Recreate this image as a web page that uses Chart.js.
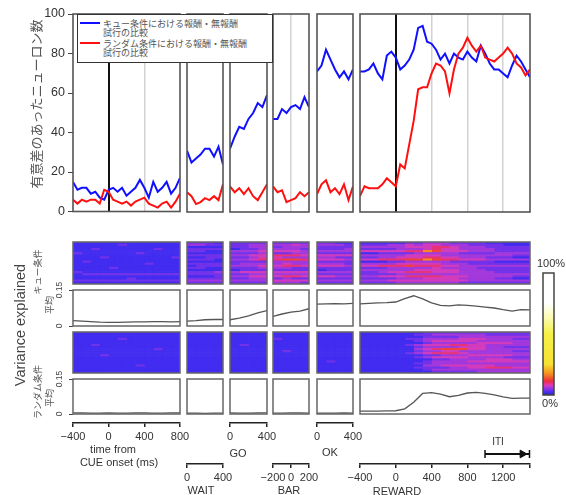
<!DOCTYPE html>
<html lang="ja">
<head>
<meta charset="utf-8">
<title>Variance explained</title>
<script src="https://cdn.jsdelivr.net/npm/chart.js@4.4.1/dist/chart.umd.min.js"></script>
<style>
  html, body { margin: 0; padding: 0; background: #fff; }
  #wrap { position: relative; width: 566px; height: 495px; overflow: hidden;
          font-family: 'Liberation Sans', 'Noto Sans CJK JP', sans-serif; }
  #wrap canvas { position: absolute; }
  .txt { position: absolute; white-space: nowrap; color: #333; line-height: 1;
         transform: translate(-50%, -50%); z-index: 5; }
  .rot { transform: translate(-50%, -50%) rotate(-90deg); }
  #legend { position: absolute; left: 77px; top: 14px; width: 196px; height: 49px;
            box-sizing: border-box; border: 1.5px solid #333; background: #fff; z-index: 6;
            font-family: 'Noto Sans CJK JP', sans-serif; font-size: 9px; line-height: 9px; color: #555; }
  #legend .sw { position: absolute; left: 2px; width: 20px; height: 2px; }
  #legend .lt { position: absolute; left: 25px; white-space: nowrap; }
</style>
</head>
<body>
<div id="wrap">
  <div id="legend">
    <div class="sw" style="top:7px;background:#1010ff"></div>
    <div class="lt" style="top:4px">キュー条件における報酬・無報酬<br>試行の比較</div>
    <div class="sw" style="top:27px;background:#ff1010"></div>
    <div class="lt" style="top:24px">ランダム条件における報酬・無報酬<br>試行の比較</div>
  </div>
</div>
<script>
// ---- top panel: number of neurons (50 ms steps) ----
const topYTicks = [0, 20, 40, 60, 80, 100];

const tCue = [-400, -350, -300, -250, -200, -150, -100, -50, 0, 50, 100, 150, 200, 250, 300, 350, 400, 450, 500, 550, 600, 650, 700, 750, 800];
const blueCue = [15, 11, 12, 12, 9, 10, 7, 6, 11, 12, 10, 12, 8, 10, 12, 16, 12, 7, 15, 10, 12, 15, 9, 12, 17];
const redCue = [6, 4, 6, 5, 6, 6, 4, 11, 10, 6, 5, 4, 5, 3, 5, 6, 7, 4, 3, 2, 4, 5, 2, 5, 9];

const tWait = [0, 50, 100, 150, 200, 250, 300, 350, 400];
const blueWait = [31, 25, 27, 29, 32, 32, 28, 33, 24];
const redWait = [10, 8, 4, 5, 7, 6, 8, 6, 14];

const tGo = [0, 50, 100, 150, 200, 250, 300, 350, 400];
const blueGo = [32, 38, 43, 42, 47, 50, 55, 53, 59];
const redGo = [13, 10, 12, 9, 12, 8, 6, 10, 14];

const tBar = [-200, -150, -100, -50, 0, 50, 100, 150, 200];
const blueBar = [47, 47, 52, 50, 53, 54, 52, 58, 53];
const redBar = [13, 10, 11, 5, 6, 7, 10, 8, 10];

const tOk = [0, 50, 100, 150, 200, 250, 300, 350, 400];
const blueOk = [71, 74, 82, 77, 72, 68, 71, 67, 72];
const redOk = [9, 14, 16, 10, 12, 9, 14, 6, 13];

const tRew = [-400, -350, -300, -250, -200, -150, -100, -50, 0, 50, 100, 150, 200, 250, 300, 350, 400, 450, 500, 550,
              600, 650, 700, 750, 800, 850, 900, 950, 1000, 1050, 1100, 1150, 1200, 1250, 1300, 1350, 1400, 1450, 1500];
const blueRew = [71, 71, 72, 75, 70, 67, 79, 81, 78, 72, 74, 77, 82, 93, 94, 86, 85, 82, 77, 80,
                 75, 80, 78, 77, 81, 78, 76, 84, 80, 75, 72, 72, 70, 68, 74, 79, 76, 72, 68];
const redRew = [8, 13, 12, 12, 12, 14, 17, 15, 13, 24, 22, 34, 46, 62, 63, 63, 70, 75, 74, 71,
                60, 72, 80, 83, 88, 84, 81, 84, 78, 77, 76, 78, 80, 83, 80, 75, 73, 69, 72];

// ---- mean variance explained (100 ms steps) ----
const meanYTicks = [0, 0.15];
const meanYLabels = ['0', '0.15'];

const mtCue = [-400, -300, -200, -100, 0, 100, 200, 300, 400, 500, 600, 700, 800];
const mtWait = [0, 100, 200, 300, 400];
const mtGo = [0, 100, 200, 300, 400];
const mtBar = [-200, -100, 0, 100, 200];
const mtOk = [0, 100, 200, 300, 400];
const mtRew = [-400, -300, -200, -100, 0, 100, 200, 300, 400, 500, 600, 700, 800, 900, 1000, 1100, 1200, 1300, 1400, 1500];

const meanCueCue = [0.022, 0.02, 0.018, 0.016, 0.015, 0.015, 0.016, 0.017, 0.017, 0.018, 0.018, 0.017, 0.018];
const meanCueWait = [0.02, 0.022, 0.026, 0.027, 0.027];
const meanCueGo = [0.026, 0.033, 0.042, 0.055, 0.064];
const meanCueBar = [0.04, 0.05, 0.058, 0.062, 0.072];
const meanCueOk = [0.091, 0.092, 0.093, 0.092, 0.094];
const meanCueRew = [0.092, 0.094, 0.096, 0.097, 0.1, 0.114, 0.126, 0.113, 0.096, 0.086, 0.084, 0.088, 0.086, 0.083, 0.079, 0.075, 0.068, 0.062, 0.068, 0.067];

const meanRndCue = [0.005, 0.005, 0.004, 0.004, 0.005, 0.004, 0.004, 0.005, 0.005, 0.004, 0.004, 0.005, 0.005];
const meanRndWait = [0.004, 0.004, 0.003, 0.004, 0.004];
const meanRndGo = [0.005, 0.004, 0.004, 0.005, 0.005];
const meanRndBar = [0.004, 0.004, 0.005, 0.005, 0.004];
const meanRndOk = [0.004, 0.004, 0.004, 0.005, 0.004];
const meanRndRew = [0.012, 0.012, 0.012, 0.013, 0.014, 0.022, 0.05, 0.088, 0.092, 0.085, 0.074, 0.08, 0.09, 0.093, 0.088, 0.082, 0.073, 0.067, 0.068, 0.068];

// ---- heatmaps: one string per neuron row, 100 ms bins, panels split by '|' (0 = blue ... 6 = yellow) ----
const heatCue = [
  '000000000000|1110|1111|1111|1100|0000011222111100000',
  '000001000000|2211|1122|2232|2221|1112232332221111000',
  '000000000000|0000|1122|1222|1111|2222233344322211111',
  '001000000100|1111|0112|2221|1112|1111222343322221111',
  '000000000000|1100|2223|3332|2222|3333344653332221111',
  '100000010000|0000|1112|1122|1111|0011112222211112222',
  '000000000000|1111|2233|4443|3333|2222233332222222211',
  '000100000001|0011|1123|3222|2211|1122333443322211100',
  '000000000000|1110|2234|4554|3332|3344455654433322222',
  '010000000000|0000|1111|2222|1111|0001122222111110000',
  '000000001000|1111|1222|2322|2221|2222333332221111111',
  '000000000000|0111|2223|3443|3332|3344454443322222222',
  '000010000000|1100|1112|2211|1111|1112222232222111111',
  '000000000000|0000|0111|1111|0111|2222223333322211111',
  '100000000000|1112|2333|3333|2222|1123344433322221111',
  '011111111111|1111|1122|2222|1111|1111222222222222222',
  '000000000000|0001|2233|3443|3322|2233344443332222211',
  '000000100000|1111|1122|1211|1111|1111222333322221100',
  '111111111111|2222|2222|3333|2222|2223333333332222222',
  '000000000000|1111|1111|2221|1111|1111222222211111111'
];
const heatRnd = [
  '000000000000|0000|0000|0000|0000|0000000111111111111',
  '000000000000|0000|0000|0000|0000|0000001122222211111',
  '000000000000|0000|0000|0000|0000|0000000111122222222',
  '000001000000|0000|0000|1000|0000|0000011222233322211',
  '000000000000|0000|0000|0000|0000|0000001233333222222',
  '000000000000|0000|0000|0000|0000|0000000122222333322',
  '001000000000|0000|0100|0000|0000|0000012333443322222',
  '000000000000|0000|0000|0000|0000|0000001222233322111',
  '000000000100|0000|0000|0000|0000|0000002345553322222',
  '000000000000|0000|0000|0100|0000|0000001223322222211',
  '000000000000|0000|0000|0000|0000|0000012344432222222',
  '000100000000|0000|0000|0000|0000|0000000112223333322',
  '000000000000|0000|0000|0000|0000|0000001233332222111',
  '000000000000|0000|0000|0000|0000|0000000011222233322',
  '000000000000|0000|0000|0000|0100|0000000122223333333',
  '000000000000|0000|0000|0000|0000|0000001122222222222',
  '000000010000|0000|0000|0000|0000|0000000223333332222',
  '000000000000|0000|0000|0000|0000|0000001111223344433',
  '000000000000|0000|0000|0000|0000|0000000122222222222',
  '000000000000|0000|0000|0000|0000|0000000011111222222'
];
const heatLevels = [0.02, 0.037, 0.055, 0.075, 0.095, 0.125, 0.17, 0.22, 0.3, 0.4];

// ---- bottom time axes ----
const axCueTicks = [-400, 0, 400, 800];       const axCueLabels = ['\u2212400', '0', '400', '800'];
const axWaitTicks = [0, 400];                 const axWaitLabels = ['0', '400'];
const axGoTicks = [0, 400];                   const axGoLabels = ['0', '400'];
const axBarTicks = [-200, 0, 200];            const axBarLabels = ['\u2212200', '0', '200'];
const axOkTicks = [0, 400];                   const axOkLabels = ['0', '400'];
const axRewTicks = [-400, 0, 400, 800, 1200, 1500];
const axRewLabels = ['\u2212400', '0', '400', '800', '1200', ''];
const itiSpan = [1000, 1500];
const itiHead = 1420;

// panel layout (pixels) and which data goes where
const PANELS = [
  { x0: 73,  x1: 180, min: -400, max: 800,  t: tCue,  blue: blueCue,  red: redCue,  mt: mtCue,  mc: meanCueCue,  mr: meanRndCue,
    marks: [0, 400], zeroBlack: true,  ax: { y: 423, h: 46, ticks: axCueTicks, labels: axCueLabels } },
  { x0: 187, x1: 223, min: 0,    max: 400,  t: tWait, blue: blueWait, red: redWait, mt: mtWait, mc: meanCueWait, mr: meanRndWait,
    marks: [], zeroBlack: false, ax: { y: 464, h: 33, ticks: axWaitTicks, labels: axWaitLabels } },
  { x0: 230, x1: 267, min: 0,    max: 400,  t: tGo,   blue: blueGo,   red: redGo,   mt: mtGo,   mc: meanCueGo,   mr: meanRndGo,
    marks: [], zeroBlack: false, ax: { y: 423, h: 37, ticks: axGoTicks, labels: axGoLabels } },
  { x0: 273, x1: 309, min: -200, max: 200,  t: tBar,  blue: blueBar,  red: redBar,  mt: mtBar,  mc: meanCueBar,  mr: meanRndBar,
    marks: [0], zeroBlack: false, ax: { y: 464, h: 33, ticks: axBarTicks, labels: axBarLabels } },
  { x0: 317, x1: 353, min: 0,    max: 400,  t: tOk,   blue: blueOk,   red: redOk,   mt: mtOk,   mc: meanCueOk,   mr: meanRndOk,
    marks: [], zeroBlack: false, ax: { y: 423, h: 35, ticks: axOkTicks, labels: axOkLabels } },
  { x0: 360, x1: 530, min: -400, max: 1500, t: tRew,  blue: blueRew,  red: redRew,  mt: mtRew,  mc: meanCueRew,  mr: meanRndRew,
    marks: [0, 400, 800, 1200], zeroBlack: true, ax: { y: 464, h: 34, ticks: axRewTicks, labels: axRewLabels } }
];

const ROWS = { top: [14, 212], heatCue: [242, 284], meanCue: [290, 326], heatRnd: [332, 373], meanRnd: [379, 414] };

Chart.defaults.font.family = "'Liberation Sans', Arial, sans-serif";
Chart.defaults.color = '#333';
const wrap = document.getElementById('wrap');

function addCanvas(left, top, w, h) {
  const c = document.createElement('canvas');
  c.width = w; c.height = h;
  c.style.left = left + 'px'; c.style.top = top + 'px';
  c.style.width = w + 'px'; c.style.height = h + 'px';
  wrap.appendChild(c);
  return c;
}

function addText(text, cx, cy, size, opts = {}) {
  const d = document.createElement('div');
  d.className = 'txt' + (opts.rot ? ' rot' : '');
  d.textContent = text;
  d.style.left = cx + 'px'; d.style.top = cy + 'px';
  d.style.fontSize = size + 'px';
  if (opts.color) d.style.color = opts.color;
  if (opts.family) d.style.fontFamily = opts.family;
  wrap.appendChild(d);
}

// gradient used by heatmaps and colour bar
const cmapStops = [
  [0.00, [45, 40, 170]], [0.02, [66, 44, 240]], [0.05, [150, 55, 228]], [0.08, [222, 60, 180]],
  [0.11, [238, 42, 60]], [0.17, [245, 140, 30]], [0.25, [245, 225, 50]], [0.50, [245, 240, 70]],
  [0.62, [250, 250, 170]], [0.75, [255, 255, 255]], [1.00, [255, 255, 255]]
];
function cmap(v) {
  for (let i = 1; i < cmapStops.length; i++) {
    const [v1, c1] = cmapStops[i];
    if (v <= v1) {
      const [v0, c0] = cmapStops[i - 1];
      const f = (v - v0) / (v1 - v0);
      const c = c0.map((x, k) => Math.round(x + (c1[k] - x) * f));
      return `rgb(${c[0]},${c[1]},${c[2]})`;
    }
  }
  return 'rgb(255,255,255)';
}
const heatColor = ch => cmap(heatLevels[+ch || 0]);

const framePlugin = {
  id: 'frame',
  afterDraw(chart, args, o) {
    const { ctx, chartArea: a } = chart;
    ctx.save();
    ctx.strokeStyle = o.color || '#555';
    ctx.lineWidth = o.width || 1.5;
    ctx.strokeRect(a.left, a.top, a.right - a.left, a.bottom - a.top);
    ctx.restore();
  }
};

function baseOptions(pad, frame) {
  return {
    responsive: false, animation: false, devicePixelRatio: 1, events: [],
    layout: { padding: pad },
    plugins: { legend: { display: false }, tooltip: { enabled: false }, frame: frame || false }
  };
}
const pairs = (ts, vs) => ts.map((t, k) => ({ x: t, y: vs[k] }));

// ---- top line panels ----
PANELS.forEach((p, i) => {
  const first = i === 0;
  const [top, bottom] = ROWS.top;
  const w = p.x1 - p.x0, h = bottom - top;
  const cv = first ? addCanvas(0, 0, p.x1 + 2, bottom + 10) : addCanvas(p.x0 - 2, top - 2, w + 4, h + 4);
  const opts = baseOptions(first ? { left: 0, right: 2, top: top, bottom: 10 } : 2, { color: '#555', width: 1.6 });
  const isBlack = c => c.tick && c.tick.value === 0 && p.zeroBlack;
  opts.scales = {
    x: {
      type: 'linear', min: p.min, max: p.max,
      afterFit: s => { s.height = 0; },
      afterBuildTicks: s => { s.ticks = p.marks.map(v => ({ value: v })); },
      ticks: { display: false }, border: { display: false },
      grid: { drawTicks: false, color: c => isBlack(c) ? '#111' : '#d2d2d2', lineWidth: c => isBlack(c) ? 2 : 1.5 }
    },
    y: first ? {
      min: 0, max: 100,
      afterFit: s => { s.width = p.x0; },
      afterBuildTicks: s => { s.ticks = topYTicks.map(v => ({ value: v })); },
      ticks: { font: { size: 12.5 }, color: '#333', padding: 3 },
      grid: { drawOnChartArea: false, tickLength: 5, color: '#444', lineWidth: 1 },
      border: { display: false }
    } : { min: 0, max: 100, display: false }
  };
  new Chart(cv, {
    type: 'line',
    data: { datasets: [
      { data: pairs(p.t, p.red), borderColor: '#ff1010', borderWidth: 2, pointRadius: 0 },
      { data: pairs(p.t, p.blue), borderColor: '#1010ff', borderWidth: 2, pointRadius: 0 }
    ] },
    options: opts,
    plugins: [framePlugin]
  });
});

// ---- heatmaps ----
function heatChart(p, idx, rows, [top, bottom]) {
  const w = p.x1 - p.x0;
  const cv = addCanvas(p.x0 - 2, top - 2, w + 4, bottom - top + 4);
  const seg = rows.map(r => r.split('|')[idx] || '');
  const opts = baseOptions(2, { color: '#666', width: 1.5 });
  opts.indexAxis = 'y';
  opts.scales = {
    x: { type: 'linear', min: p.min, max: p.max, display: false },
    y: { display: false }
  };
  new Chart(cv, {
    type: 'bar',
    data: {
      labels: seg.map((_, k) => 'n' + k),
      datasets: p.mt.slice(0, -1).map((t, ci) => ({
        data: seg.map(() => [t, p.mt[ci + 1]]),
        backgroundColor: seg.map(s => heatColor(s[ci])),
        grouped: false, barPercentage: 1, categoryPercentage: 1, borderWidth: 0
      }))
    },
    options: opts,
    plugins: [framePlugin]
  });
}

// ---- mean variance explained panels ----
function meanChart(p, i, vals, [top, bottom]) {
  const first = i === 0;
  const w = p.x1 - p.x0, h = bottom - top;
  const cv = first ? addCanvas(0, top - 8, p.x1 + 2, h + 16) : addCanvas(p.x0 - 2, top - 2, w + 4, h + 4);
  const opts = baseOptions(first ? { left: 0, right: 2, top: 8, bottom: 8 } : 2, { color: '#666', width: 1.5 });
  opts.scales = {
    x: { type: 'linear', min: p.min, max: p.max, display: false },
    y: first ? {
      min: 0, max: 0.15,
      afterFit: s => { s.width = p.x0; },
      afterBuildTicks: s => { s.ticks = meanYTicks.map(v => ({ value: v })); },
      ticks: { minRotation: 90, maxRotation: 90, crossAlign: 'center', padding: 1, font: { size: 8.5 }, color: '#444',
               callback: (v, k) => meanYLabels[k] },
      grid: { drawOnChartArea: false, tickLength: 4, color: '#444', lineWidth: 1 },
      border: { display: false }
    } : { min: 0, max: 0.15, display: false }
  };
  new Chart(cv, {
    type: 'line',
    data: { datasets: [{ data: pairs(p.mt, vals), borderColor: '#555', borderWidth: 1.3, pointRadius: 0 }] },
    options: opts,
    plugins: [framePlugin]
  });
}

// ---- bottom time axes ----
function axisChart(p) {
  const ax = p.ax, w = p.x1 - p.x0;
  const cv = addCanvas(p.x0 - 20, ax.y - 4, w + 40, ax.h + 4);
  const opts = baseOptions({ left: 20, right: 20, top: 2, bottom: 0 });
  opts.scales = {
    x: {
      type: 'linear', min: p.min, max: p.max, position: 'bottom',
      afterFit: s => { s.height = ax.h; },
      afterBuildTicks: s => { s.ticks = ax.ticks.map(v => ({ value: v })); },
      ticks: { font: { size: 11 }, color: '#333', padding: 3, maxRotation: 0, autoSkip: false,
               callback: (v, k) => ax.labels[k] },
      grid: { drawOnChartArea: false, tickLength: 4, color: '#222', lineWidth: 1.5 },
      border: { display: true, color: '#222', width: 1.5 }
    },
    y: { display: false, min: 0, max: 1 }
  };
  new Chart(cv, { type: 'line', data: { datasets: [] }, options: opts });
}

PANELS.forEach((p, i) => {
  heatChart(p, i, heatCue, ROWS.heatCue);
  meanChart(p, i, p.mc, ROWS.meanCue);
  heatChart(p, i, heatRnd, ROWS.heatRnd);
  meanChart(p, i, p.mr, ROWS.meanRnd);
  axisChart(p);
});

// ---- ITI arrow on the reward time axis ----
(function () {
  const p = PANELS[5];
  const cv = addCanvas(p.x0 - 5, 446, p.x1 - p.x0 + 10, 16);
  const opts = baseOptions({ left: 5, right: 5, top: 2, bottom: 2 });
  opts.scales = {
    x: { type: 'linear', min: p.min, max: p.max, display: false },
    y: { min: -1, max: 1, display: false }
  };
  new Chart(cv, {
    type: 'line',
    data: { datasets: [
      { data: itiSpan.map(t => ({ x: t, y: 0 })), borderColor: '#111', borderWidth: 1.8,
        pointStyle: 'line', pointRotation: 90, pointRadius: 4, pointBorderColor: '#111', pointBorderWidth: 1.5, clip: false },
      { data: [{ x: itiHead, y: 0 }], showLine: false, pointStyle: 'triangle', pointRotation: 90, pointRadius: 4.5,
        pointBackgroundColor: '#111', pointBorderColor: '#111', clip: false }
    ] },
    options: opts
  });
})();

// ---- colour bar ----
(function () {
  const levels = [];
  for (let v = 0; v < 100; v += 1) levels.push(v);
  const cv = addCanvas(541, 271, 15, 126);
  const opts = baseOptions(2, { color: '#444', width: 1.5 });
  opts.scales = { x: { display: false }, y: { min: 0, max: 100, display: false } };
  new Chart(cv, {
    type: 'bar',
    data: {
      labels: ['cb'],
      datasets: levels.map(v => ({
        data: [[v, v + 1]], backgroundColor: cmap((v + 0.5) / 100),
        grouped: false, barPercentage: 1, categoryPercentage: 1, borderWidth: 0
      }))
    },
    options: opts,
    plugins: [framePlugin]
  });
})();

// ---- free text ----
const JP = "'Noto Sans CJK JP', sans-serif";
addText('有意差のあったニューロン数', 35, 104, 13, { rot: true, color: '#555', family: JP });
addText('Variance explained', 20, 325, 14.5, { rot: true, color: '#444' });
addText('キュー条件', 37, 272, 9, { rot: true, color: '#555', family: JP });
addText('平均', 49, 305, 9, { rot: true, color: '#555', family: JP });
addText('ランダム条件', 37, 392, 9, { rot: true, color: '#555', family: JP });
addText('平均', 49, 398, 9, { rot: true, color: '#555', family: JP });
addText('time from', 113, 449, 11);
addText('CUE onset (ms)', 119, 462, 11);
addText('GO', 238, 453, 11);
addText('OK', 330, 451.5, 11);
addText('WAIT', 201, 490, 11);
addText('BAR', 289, 490, 11);
addText('REWARD', 397, 491, 11);
addText('ITI', 498, 442, 10);
addText('100%', 551, 263, 11);
addText('0%', 550, 403, 11);
</script>
</body>
</html>
